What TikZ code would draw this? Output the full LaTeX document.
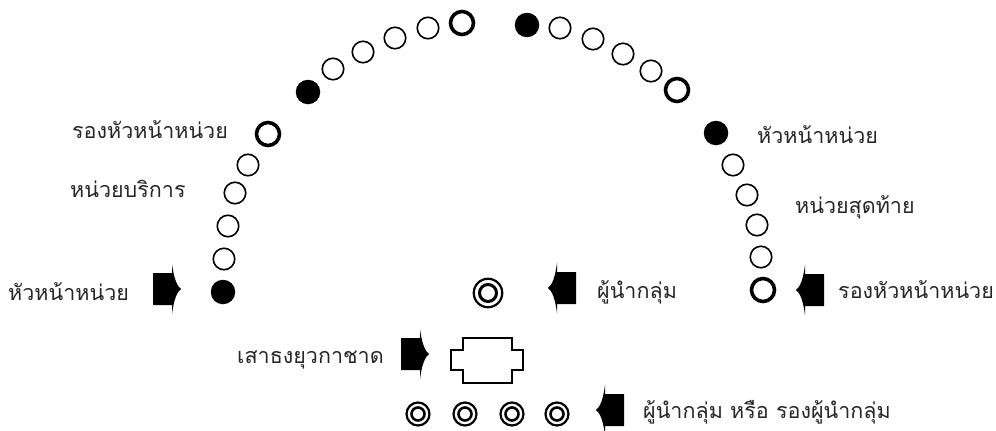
\documentclass[tikz,border=0pt]{standalone}
\usepackage{fontspec}
\newfontfamily\thaifont[Script=Thai]{Loma}
\begin{document}
\begin{tikzpicture}[x=1pt,y=-1pt,
  lbl/.style={font=\thaifont\fontsize{21.5}{26}\selectfont, text=black!85, inner sep=0pt, anchor=base west},
  opencirc/.style={circle, draw, line width=1.6pt, minimum size=21.5pt, inner sep=0pt},
  thickcirc/.style={circle, draw, line width=3.6pt, minimum size=23pt, inner sep=0pt},
  fillcirc/.style={circle, fill, minimum size=24.5pt, inner sep=0pt},
  ringout/.style={circle, draw, line width=2.2pt, minimum size=28.5pt, inner sep=0pt},
  ringin/.style={circle, draw, line width=3pt, minimum size=17pt, inner sep=0pt},
  smallout/.style={circle, draw, line width=2.2pt, minimum size=23pt, inner sep=0pt},
  smallin/.style={circle, draw, line width=2.6pt, minimum size=13pt, inner sep=0pt},
  pics/blockarr/.style={code={
    \fill (0,-16) -- (19,-16) -- (19,-25) .. controls (21,-10) and (24,-3) .. (28,0)
      .. controls (24,3) and (21,10) .. (19,25) -- (19,16) -- (0,16) -- cycle;
  }}
]
\useasboundingbox (0,0) rectangle (996,431);

% left side of the arc
\node[fillcirc]  (l1)  at (223,292) {};
\node[opencirc]  (l2)  at (224,259) {};
\node[opencirc]  (l3)  at (228,226) {};
\node[opencirc]  (l4)  at (235,193) {};
\node[opencirc]  (l5)  at (248,165) {};
\node[thickcirc] (l6)  at (268,134) {};
\node[fillcirc]  (l7)  at (308,92) {};
\node[opencirc]  (l8)  at (333,69) {};
\node[opencirc]  (l9)  at (363,52) {};
\node[opencirc]  (l10) at (395,38) {};
\node[opencirc]  (l11) at (428,28) {};
\node[thickcirc] (l12) at (462,23) {};

% right side of the arc
\node[fillcirc]  (r1)  at (527,25) {};
\node[opencirc]  (r2)  at (560,28) {};
\node[opencirc]  (r3)  at (593,39) {};
\node[opencirc]  (r4)  at (623,54) {};
\node[opencirc]  (r5)  at (651,71) {};
\node[thickcirc] (r6)  at (677,90) {};
\node[fillcirc]  (r7)  at (716,133) {};
\node[opencirc]  (r8)  at (733,165) {};
\node[opencirc]  (r9)  at (747,195) {};
\node[opencirc]  (r10) at (757,225) {};
\node[opencirc]  (r11) at (761,257) {};
\node[thickcirc] (r12) at (763,290) {};

% group leader
\node[ringout] (lead) at (488,293) {};
\node[ringin]  (leadin) at (488,293) {};

% flag pole
\draw[line width=1.8pt, line join=miter] (463,338) -- (512,338) -- (512,350) -- (523,350) -- (523,370)
  -- (512,370) -- (512,383) -- (463,383) -- (463,370) -- (451,370) -- (451,350) -- (463,350) -- cycle;

% bottom row
\foreach \i/\x in {1/418,2/465,3/512,4/557}{
  \node[smallout] (b\i) at (\x,414) {};
  \node[smallin]  (bi\i) at (\x,414) {};
}

% arrows
\pic at (153,289) {blockarr};
\pic at (401,354) {blockarr};
\pic[xscale=-1] at (576,288) {blockarr};
\pic[xscale=-1] at (824,290) {blockarr};
\pic[xscale=-1] at (624,410) {blockarr};

% labels
\node[lbl] (t1) at (72,138) {รองหัวหน้าหน่วย};
\node[lbl] (t2) at (70,197) {หน่วยบริการ};
\node[lbl] (t3) at (8,300) {หัวหน้าหน่วย};
\node[lbl] (t4) at (757,143) {หัวหน้าหน่วย};
\node[lbl] (t5) at (795,213) {หน่วยสุดท้าย};
\node[lbl] (t6) at (838,298) {รองหัวหน้าหน่วย};
\node[lbl] (t7) at (597,298) {ผู้นำกลุ่ม};
\node[lbl] (t8) at (237,363) {เสาธงยุวกาชาด};
\node[lbl] (t9) at (643,418) {ผู้นำกลุ่ม หรือ รองผู้นำกลุ่ม};
\end{tikzpicture}
\end{document}
